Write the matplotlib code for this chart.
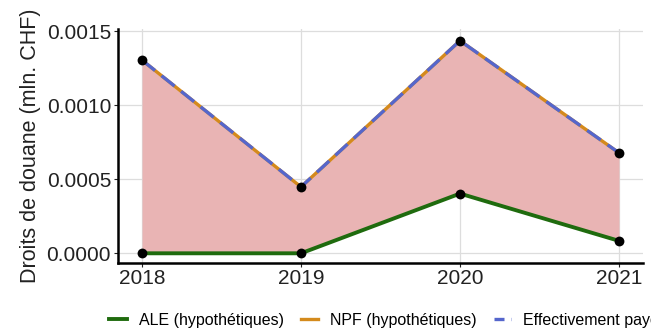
import numpy as np
import matplotlib.pyplot as plt
from matplotlib.lines import Line2D

plt.rcParams['font.family'] = ['Liberation Sans', 'DejaVu Sans']

years = [2018, 2019, 2020, 2021]
ale = [0.0, 0.0, 0.000403, 0.000084]
npf = [0.001304, 0.000448, 0.001435, 0.000678]
effectif = [0.001304, 0.000448, 0.001435, 0.000678]
yticks = [0.0, 0.0005, 0.0010, 0.0015]

green = '#1f6b0e'
orange = '#d48a1c'
blue = '#5566cc'
fill_col = '#e9b4b4'

fig = plt.figure(figsize=(6.51, 3.30), dpi=100)
ax = fig.add_axes([118/651, (330-263)/330, (643-118)/651, (263-29)/330])

ax.fill_between(years, ale, effectif, color=fill_col, lw=0, zorder=1)
ax.plot(years, ale, color=green, lw=2.8, zorder=3, solid_capstyle='butt')
ax.plot(years, npf, color=orange, lw=2.4, zorder=3)
ax.plot(years, effectif, color=blue, lw=2.4, dashes=(5, 2.5), zorder=4)
for s in (ale, effectif):
    ax.scatter(years, s, color='black', s=50, zorder=5, lw=0)

ax.set_xlim(2018 - 0.151, 2021 + 0.151)
ax.set_ylim(-0.0000655, 0.001514)
ax.set_xticks(years)
ax.set_yticks(yticks)
ax.set_yticklabels([f'{v:.4f}' for v in yticks])
ax.grid(True, color='#dddddd', lw=0.9, zorder=0)
ax.set_axisbelow(True)

for side in ('top', 'right'):
    ax.spines[side].set_visible(False)
for side in ('left', 'bottom'):
    ax.spines[side].set_linewidth(1.8)
    ax.spines[side].set_color('black')
ax.tick_params(axis='both', labelsize=15, colors='#222222', length=3, width=0.8)
ax.tick_params(axis='x', pad=1)
ax.tick_params(axis='y', pad=2)
ax.set_ylabel('Droits de douane (mln. CHF)', fontsize=15.5, color='#222222', labelpad=4)

handles = [
    Line2D([], [], color=green, lw=2.8),
    Line2D([], [], color=orange, lw=2.4),
    Line2D([], [], color=blue, lw=2.4, dashes=(3, 2)),
]
labels = ['ALE (hypothétiques)', 'NPF (hypothétiques)', 'Effectivement payés']
fig.legend(handles, labels, loc='center left', bbox_to_anchor=(95/651, 1 - 320/330), ncol=3,
           frameon=False, fontsize=11.5, handlelength=1.1, columnspacing=1.05,
           handletextpad=0.75)

fig.savefig('out.png', dpi=100)
